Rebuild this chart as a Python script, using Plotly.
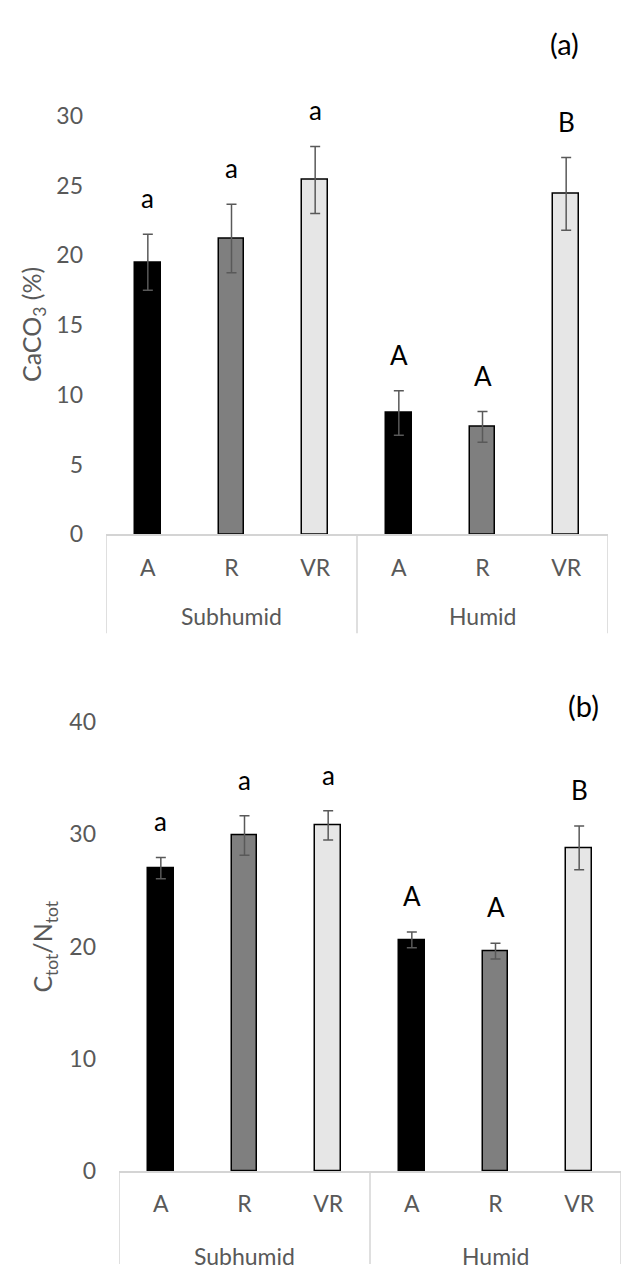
import plotly.graph_objects as go

# ---- data ----
groups = ["Subhumid", "Humid"]
treatments = ["A", "R", "VR"]

caco3_mean = [19.5, 21.2, 25.4, 8.7, 7.7, 24.4]
caco3_err = [2.0, 2.45, 2.4, 1.6, 1.1, 2.6]
caco3_letters = ["a", "a", "a", "A", "A", "B"]

cn_mean = [27.0, 29.9, 30.8, 20.6, 19.6, 28.8]
cn_err = [0.95, 1.75, 1.3, 0.7, 0.7, 1.95]
cn_letters = ["a", "a", "a", "A", "A", "B"]

y_a_ticks = [0, 5, 10, 15, 20, 25, 30]
y_b_ticks = [0, 10, 20, 30, 40]

bar_colors = ["#000000", "#7f7f7f", "#e6e6e6"] * 2

# ---- layout constants (pixels) ----
W, H = 622, 1277
FONT = "Lato"
GRAY = "#595959"
LINE = "#d4d4d4"

def fx(px):
    return px / W

def fy(py):
    return (H - py) / H

n = len(groups) * len(treatments)
xs = list(range(n))
tick_text = treatments * len(groups)

fig = go.Figure()

panels = [
    dict(mean=caco3_mean, err=caco3_err, letters=caco3_letters, xa="x", ya="y",
         xd=[fx(106), fx(608)], yd=[fy(531), fy(103)], rng=[0, 30], ticks=y_a_ticks,
         div_bottom=fy(632), title="CaCO<sub>3</sub> (%)", title_x=33,
         tag="(a)", tag_xy=(564, 29), grp_off=82),
    dict(mean=cn_mean, err=cn_err, letters=cn_letters, xa="x2", ya="y2",
         xd=[fx(119), fx(621)], yd=[fy(1182), fy(723)], rng=[0, 40], ticks=y_b_ticks,
         div_bottom=0.0, title="C<sub>tot</sub>/N<sub>tot</sub>", title_x=44,
         tag="(b)", tag_xy=(583, 706), grp_off=85),
]

annotations = []
shapes = []
for i, p in enumerate(panels):
    fig.add_trace(go.Bar(
        x=xs, y=p["mean"], width=[0.31] * n,
        marker=dict(color=bar_colors, line=dict(color="#000000", width=1.5)),
        error_y=dict(type="data", array=p["err"], visible=True,
                     color=GRAY, thickness=1.5, width=5),
        xaxis=p["xa"], yaxis=p["ya"], showlegend=False, hoverinfo="skip",
    ))
    sfx = "" if i == 0 else "2"
    fig.layout["xaxis" + sfx] = dict(
        domain=p["xd"], anchor=p["ya"], range=[-0.5, n - 0.5],
        tickmode="array", tickvals=xs, ticktext=tick_text,
        showline=True, linecolor=LINE, linewidth=1.5, showgrid=False,
        zeroline=False, ticks="", ticklabelstandoff=12,
        tickfont=dict(family=FONT, size=23, color=GRAY),
    )
    fig.layout["yaxis" + sfx] = dict(
        domain=p["yd"], anchor=p["xa"], range=p["rng"],
        tickmode="array", tickvals=p["ticks"],
        showline=False, showgrid=False, zeroline=False, ticks="",
        ticklabelstandoff=22,
        tickfont=dict(family=FONT, size=23, color=GRAY),
    )
    # significance letters
    for j in range(n):
        annotations.append(dict(
            x=j, y=p["mean"][j] + p["err"][j], xref=p["xa"], yref=p["ya"],
            text=p["letters"][j], showarrow=False, yanchor="middle", yshift=36,
            font=dict(family=FONT, size=26, color="#000000"),
        ))
    # group labels
    for g, name in enumerate(groups):
        annotations.append(dict(
            x=g * len(treatments) + (len(treatments) - 1) / 2, y=0,
            xref=p["xa"], yref=p["ya"], text=name, showarrow=False,
            yanchor="middle", yshift=-p["grp_off"],
            font=dict(family=FONT, size=23, color=GRAY),
        ))
    # group dividers
    for g in range(len(groups) + 1):
        xv = g * len(treatments) - 0.5
        shapes.append(dict(
            type="line", xref=p["xa"], yref="paper", x0=xv, x1=xv,
            y0=p["div_bottom"], y1=p["yd"][0],
            line=dict(color=LINE, width=1.5),
        ))
    # y-axis title
    annotations.append(dict(
        x=fx(p["title_x"]), y=(p["yd"][0] + p["yd"][1]) / 2, xref="paper", yref="paper",
        text=p["title"], textangle=-90, showarrow=False,
        xanchor="center", yanchor="middle",
        font=dict(family=FONT, size=25, color=GRAY),
    ))
    # panel tag
    annotations.append(dict(
        x=fx(p["tag_xy"][0]), y=fy(p["tag_xy"][1]), xref="paper", yref="paper",
        text=p["tag"], showarrow=False, xanchor="center", yanchor="middle",
        font=dict(family=FONT, size=29, color="#000000"),
    ))

fig.update_layout(
    width=W, height=H, margin=dict(l=0, r=0, t=0, b=0),
    paper_bgcolor="white", plot_bgcolor="white",
    annotations=annotations, shapes=shapes, bargap=0,
)

fig.write_html(
    "out.html",
    config={"displayModeBar": False},
    post_script="document.body.style.margin='0';document.body.style.overflow='hidden';",
)
